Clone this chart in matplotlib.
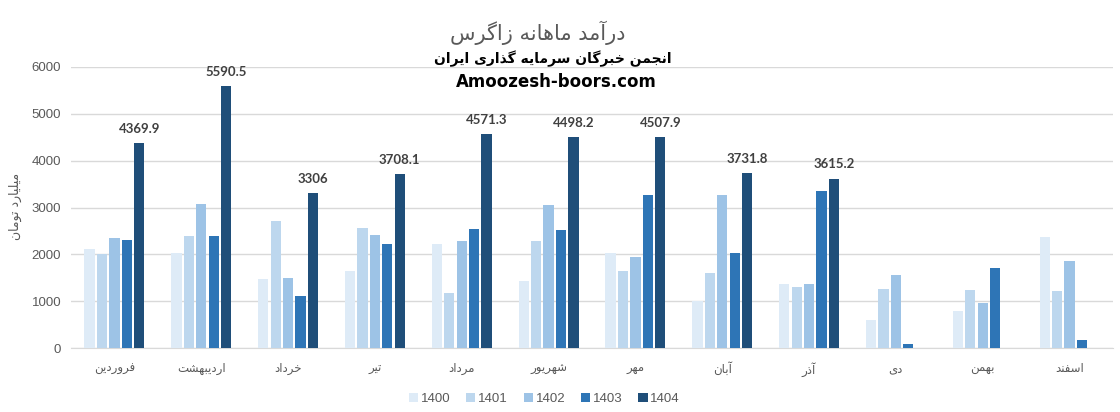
import numpy as np
import matplotlib.pyplot as plt
from matplotlib.patches import Patch

# monthly revenue (billion toman)
months = ["فروردین", "اردیبهشت", "خرداد", "تیر", "مرداد", "شهریور",
          "مهر", "آبان", "آذر", "دی", "بهمن", "اسفند"]
years = ["1400", "1401", "1402", "1403", "1404"]

y1400 = [2110, 2025, 1470, 1640, 2215, 1430, 2025, 1000, 1365, 600, 790, 2365]
y1401 = [2005, 2390, 2710, 2560, 1175, 2280, 1640, 1600, 1300, 1260, 1240, 1215]
y1402 = [2345, 3070, 1490, 2410, 2280, 3050, 1940, 3265, 1365, 1555, 960, 1855]
y1403 = [2300, 2390, 1110, 2215, 2535, 2515, 3265, 2025, 3350, 85, 1705, 170]
y1404 = [4369.9, 5590.5, 3306, 3708.1, 4571.3, 4498.2, 4507.9, 3731.8, 3615.2,
         np.nan, np.nan, np.nan]

colors = ["#DEEBF7", "#BDD7EE", "#9DC3E6", "#2E75B6", "#1F4E79"]

# --- crude persian shaping (no reshaper lib available) ---
forms = {
    "ا": ("\uFE8D", "\uFE8E", None, None),
    "آ": ("\uFE81", "\uFE82", None, None),
    "ب": ("\uFE8F", "\uFE90", "\uFE91", "\uFE92"),
    "پ": ("\uFB56", "\uFB57", "\uFB58", "\uFB59"),
    "ت": ("\uFE95", "\uFE96", "\uFE97", "\uFE98"),
    "ج": ("\uFE9D", "\uFE9E", "\uFE9F", "\uFEA0"),
    "خ": ("\uFEA5", "\uFEA6", "\uFEA7", "\uFEA8"),
    "د": ("\uFEA9", "\uFEAA", None, None),
    "ذ": ("\uFEAB", "\uFEAC", None, None),
    "ر": ("\uFEAD", "\uFEAE", None, None),
    "ز": ("\uFEAF", "\uFEB0", None, None),
    "س": ("\uFEB1", "\uFEB2", "\uFEB3", "\uFEB4"),
    "ش": ("\uFEB5", "\uFEB6", "\uFEB7", "\uFEB8"),
    "ف": ("\uFED1", "\uFED2", "\uFED3", "\uFED4"),
    "گ": ("\uFB92", "\uFB93", "\uFB94", "\uFB95"),
    "ل": ("\uFEDD", "\uFEDE", "\uFEDF", "\uFEE0"),
    "م": ("\uFEE1", "\uFEE2", "\uFEE3", "\uFEE4"),
    "ن": ("\uFEE5", "\uFEE6", "\uFEE7", "\uFEE8"),
    "ه": ("\uFEE9", "\uFEEA", "\uFEEB", "\uFEEC"),
    "و": ("\uFEED", "\uFEEE", None, None),
    "ی": ("\uFBFC", "\uFBFD", "\uFBFE", "\uFBFF"),
}


def fa(text):
    out = []
    for i, ch in enumerate(text):
        if ch not in forms:
            out.append(ch)
            continue
        prev = text[i - 1] if i > 0 else ""
        nxt = text[i + 1] if i + 1 < len(text) else ""
        join_prev = prev in forms and forms[prev][2] is not None
        join_next = forms[ch][2] is not None and nxt in forms
        iso, fin, ini, med = forms[ch]
        if join_prev and join_next:
            out.append(med)
        elif join_prev:
            out.append(fin)
        elif join_next:
            out.append(ini)
        else:
            out.append(iso)
    return "".join(out)[::-1]


plt.rcParams['font.family'] = ['DejaVu Sans']

fig = plt.figure(figsize=(11.2, 4.12), dpi=100)
ax = fig.add_axes([0.0634, 0.1553, 0.9303, 0.6821])

x = np.arange(len(months))
series = [y1400, y1401, y1402, y1403, y1404]
step = 0.143
width = 0.118
for k, vals in enumerate(series):
    pos = x + (k - 2) * step
    ax.bar(pos, vals, width, color=colors[k], label=years[k], zorder=3)
    if k == 4:
        for xx, v in zip(pos, vals):
            if not np.isnan(v):
                ax.annotate("%g" % v, (xx, v), xytext=(0, 6), textcoords="offset points",
                            ha="center", va="bottom", fontsize=9.5, fontweight="bold",
                            family="Lato", color="#404040")

ax.set_xlim(-0.5, len(months) - 0.5)
ax.set_ylim(0, 6000)
ax.set_yticks(range(0, 6001, 1000))
ax.set_yticklabels([str(v) for v in range(0, 6001, 1000)], family="Liberation Sans")
ax.set_xticks(x)
ax.set_xticklabels([fa(m) for m in months], fontsize=8.5, color="#595959")
ax.tick_params(axis="y", colors="#595959", labelsize=9.5, length=0, pad=7)
ax.tick_params(axis="x", length=0, pad=10)
ax.grid(axis="y", color="#D9D9D9", linewidth=1, zorder=0)
for s in ["top", "right", "left"]:
    ax.spines[s].set_visible(False)
ax.spines["bottom"].set_color("#D9D9D9")

fig.text(0.014, 0.50, fa("میلیارد تومان"), rotation=90, ha="center", va="center",
         fontsize=9, color="#595959")

fig.text(0.48, 0.92, fa("درآمد ماهانه زاگرس"), ha="center", va="center",
         fontsize=15, color="#595959")
fig.text(0.494, 0.857, fa("انجمن خبرگان سرمایه گذاری ایران"), ha="center", va="center",
         fontsize=10, fontweight="bold", color="black")
fig.text(0.497, 0.80, "Amoozesh-boors.com", ha="center", va="center",
         fontsize=12, fontweight="bold", color="black")

handles = [Patch(facecolor=c, edgecolor="none") for c in colors]
fig.legend(handles, years, loc="center", bbox_to_anchor=(0.486, 0.032), ncol=5,
           frameon=False, prop={"family": "Liberation Sans", "size": 9.5},
           labelcolor="#595959",
           handlelength=0.7, handleheight=0.7, handletextpad=0.2, columnspacing=1.2)

fig.savefig("out.png", dpi=100)
